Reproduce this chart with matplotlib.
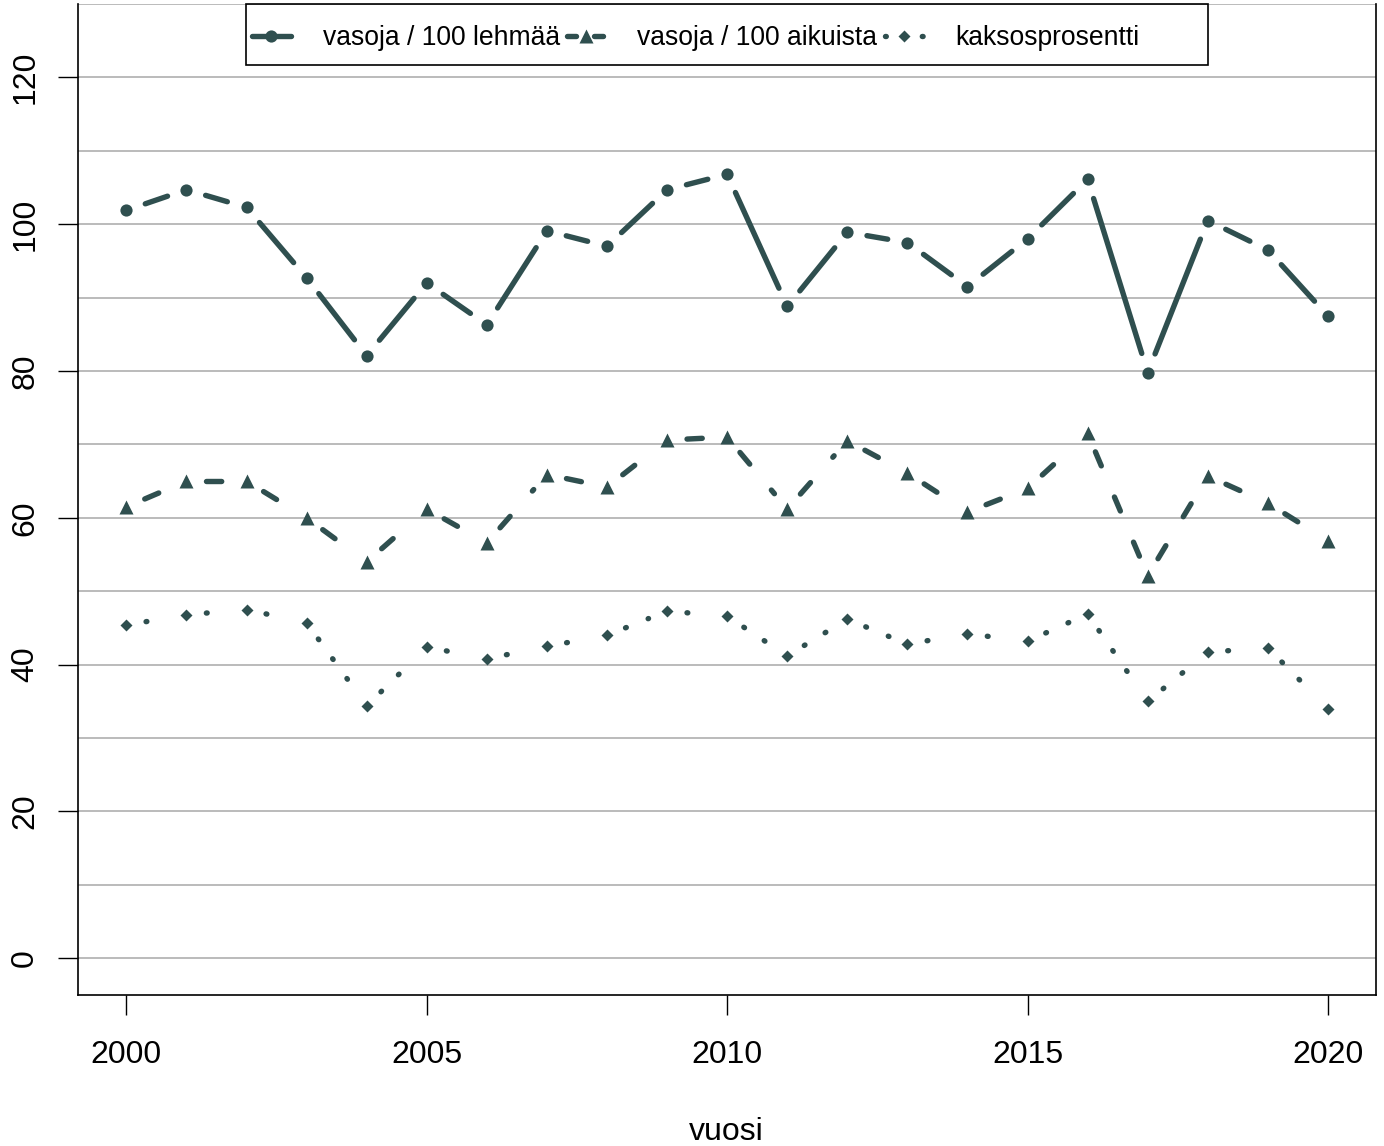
import numpy as np
import matplotlib
matplotlib.use('Agg')
import matplotlib.pyplot as plt
from matplotlib.lines import Line2D
from matplotlib.patches import Rectangle
from matplotlib.ticker import MultipleLocator

# ---------------- data ----------------
years = list(range(2000, 2021))
vasoja_lehmaa = [101.9, 104.7, 102.3, 92.7, 82.1, 92.0, 86.3, 99.1, 97.0, 104.7, 106.8,
                 88.8, 98.9, 97.5, 91.5, 98.0, 106.1, 79.8, 100.5, 96.5, 87.5]
vasoja_aikuista = [61.5, 65.0, 65.0, 60.0, 54.0, 61.2, 56.6, 65.9, 64.2, 70.6, 71.0,
                   61.2, 70.5, 66.1, 60.8, 64.0, 71.5, 52.1, 65.7, 62.0, 56.9]
kaksosprosentti = [45.4, 46.8, 47.5, 45.7, 34.4, 42.4, 40.8, 42.5, 44.0, 47.3, 46.6,
                   41.2, 46.2, 42.8, 44.2, 43.2, 46.9, 35.0, 41.7, 42.3, 34.0]
series_labels = ['vasoja / 100 lehmää', 'vasoja / 100 aikuista', 'kaksosprosentti']
x_ticks = [2000, 2005, 2010, 2015, 2020]
y_ticks = [0, 20, 40, 60, 80, 100, 120]
x_label = 'vuosi'

# ---------------- style ----------------
plt.rcParams['font.family'] = ['Liberation Sans', 'DejaVu Sans']
plt.rcParams['lines.scale_dashes'] = False
DPI = 100
W, H = 1384, 1146
COL = '#2F4F4F'
GRID = '#A8A8A8'
PT = 72.0 / DPI   # points per pixel
LW = 5.4 * PT

fig = plt.figure(figsize=(W / DPI, H / DPI), dpi=DPI)
ax_l, ax_r, ax_t, ax_b = 78.3, 1376.0, 4.0, 995.0
ax = fig.add_axes([ax_l / W, 1 - ax_b / H, (ax_r - ax_l) / W, (ax_b - ax_t) / H])
ax.set_xlim(1999.2, 2020.8)
ax.set_ylim(-5, 130)

styles = [
    dict(ls='-', marker='o', ms=12.2 * PT, leg_ls='-'),
    dict(ls=(0, (15.2 * PT, 33.8 * PT)), marker='^', ms=14.5 * PT,
         leg_ls=(0, (9 * PT, 18 * PT))),
    dict(ls=(0, (0.8 * PT, 23.6 * PT)), marker='D', ms=8.0 * PT,
         leg_ls=(0, (0.8 * PT, 36 * PT))),
]
series = [vasoja_lehmaa, vasoja_aikuista, kaksosprosentti]


def draw_type_b(x, y, ls, marker, ms, gap_px=20.0):
    """Lines broken around the points (like R type='b')."""
    pts = ax.transData.transform(np.column_stack([x, y]))
    inv = ax.transData.inverted()
    for p0, p1 in zip(pts[:-1], pts[1:]):
        d = p1 - p0
        L = np.hypot(d[0], d[1])
        if L <= 2 * gap_px:
            continue
        u = d / L
        seg = inv.transform(np.array([p0 + u * gap_px, p1 - u * gap_px]))
        ax.plot(seg[:, 0], seg[:, 1], color=COL, lw=LW, linestyle=ls,
                solid_capstyle='round', dash_capstyle='round', zorder=3)
    ax.plot(x, y, linestyle='none', marker=marker, ms=ms, color=COL,
            mec='none', zorder=4)


for vals, st in zip(series, styles):
    draw_type_b(years, vals, st['ls'], st['marker'], st['ms'])

# ---------------- axes ----------------
ax.set_xticks(x_ticks)
ax.set_xticklabels([str(v) for v in x_ticks])
ax.set_yticks(y_ticks)
ax.set_yticklabels([str(v) for v in y_ticks], rotation=90, va='center')
ax.yaxis.set_minor_locator(MultipleLocator(10))
ax.tick_params(which='minor', length=0)
ax.tick_params(which='major', length=20 * PT, width=1.0, direction='out',
               labelsize=23, color='black')
ax.tick_params(axis='x', pad=18)
ax.tick_params(axis='y', pad=13)
ax.grid(axis='y', which='both', color=GRID, lw=1.1)
ax.set_axisbelow(True)
ax.spines['top'].set_visible(False)
for s in ['left', 'right', 'bottom']:
    ax.spines[s].set_linewidth(1.2)
    ax.spines[s].set_color('black')

fig.text(726.7 / W, 6 / H, x_label, ha='center', va='baseline', fontsize=23)

# ---------------- legend ----------------
handles = [Line2D([], [], color=COL, lw=LW, linestyle=st['leg_ls'], marker=st['marker'],
                  ms=st['ms'], mec='none', solid_capstyle='round', dash_capstyle='round')
           for st in styles]
axw, axh = ax_r - ax_l, ax_b - ax_t
leg = ax.legend(handles, series_labels, ncol=3, loc='center left',
                bbox_to_anchor=((252 - ax_l) / axw, (ax_b - 38) / axh),
                frameon=False, fontsize=19.1, handlelength=1.46,
                handletextpad=1.2, columnspacing=0.27, borderpad=0,
                borderaxespad=0, numpoints=1)
ax.add_patch(Rectangle(((246 - ax_l) / axw, (ax_b - 65) / axh),
                       (1208 - 246) / axw, (65 - ax_t) / axh,
                       transform=ax.transAxes, fill=False, ec='black', lw=1.2,
                       clip_on=False, zorder=5))

fig.savefig('out.png', dpi=DPI)
